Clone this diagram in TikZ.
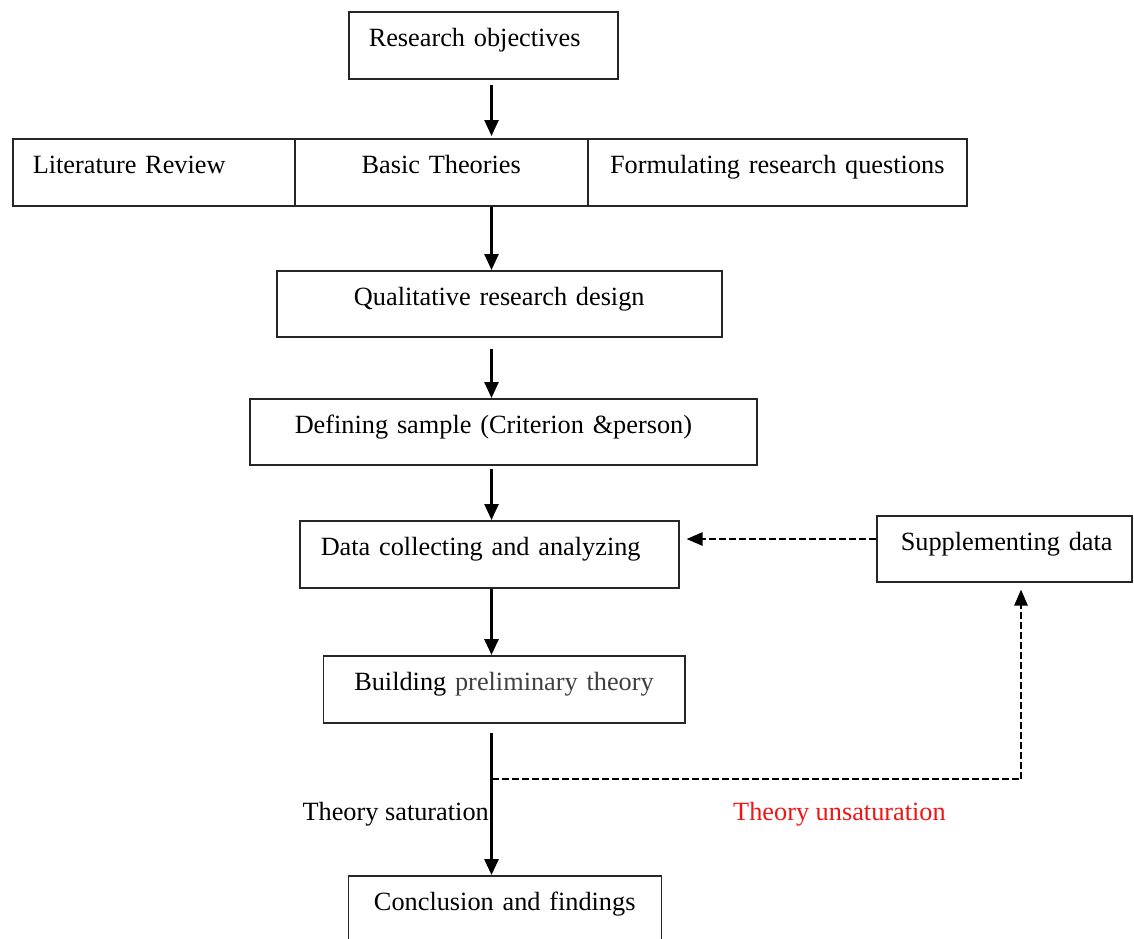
\documentclass[tikz,border=0pt]{standalone}
\usepackage{fontspec}
\setmainfont{Liberation Serif}
\usetikzlibrary{arrows.meta}
\definecolor{unsat}{RGB}{240,20,20}
\begin{document}
\begin{tikzpicture}[x=1pt,y=-1pt,
  font=\fontsize{26.3}{30}\selectfont,
  base/.style={draw=black!85, line width=1.5pt, inner ysep=0pt,
    text height=35pt, text depth=32pt, anchor=north west},
  lbox/.style 2 args={base, inner xsep=#2pt, text width=#1pt-2*#2pt, align=left},
  cbox/.style={base, inner xsep=0pt, text width=#1pt, align=center},
  arr/.style={line width=2.5pt, -{Triangle[width=14pt,length=16pt]}},
  darr/.style={line width=2.5pt, dash pattern=on 7pt off 3pt,
    -{Triangle[width=13pt,length=16pt]}}]
\clip (0,0) rectangle (1134,938);

% boxes of the flow
\node[lbox={269}{20}] (obj) at (348,11) {Research objectives};
\node[lbox={282}{20}] (lit) at (12,138) {Literature Review};
\node[cbox=293] (basic) at (294,138) {Basic Theories};
\node[cbox=379] (form) at (587,138) {Formulating research questions};
\node[cbox=445, text depth=31pt] (qual) at (276,270) {Qualitative research design};
\node[lbox={507}{45}, text depth=31pt] (samp) at (249,398) {Defining sample (Criterion \&person)};
\node[lbox={379}{21}] (data) at (299,520) {Data collecting and analyzing};
\node[lbox={255}{24}, text depth=31pt] (supp) at (876,515) {\mbox{Supplementing data}};
\node[cbox=361.5] (build) at (322.5,655) {Building {\color{black!75}preliminary theory}};
\node[cbox=313, text depth=45pt] (concl) at (347.5,875) {Conclusion and findings};

% main axis of the vertical connectors
\coordinate (axis) at (491.5,0);
\coordinate (split) at (491.5,779);
\coordinate (turn) at (1021,779);

\draw[arr, shorten <=5pt, shorten >=2pt] (obj.south -| axis) -- (basic.north -| axis);
\draw[arr] (basic.south -| axis) -- (qual.north -| axis);
\draw[arr, shorten <=11pt] (qual.south -| axis) -- (samp.north -| axis);
\draw[arr, shorten <=3pt] (samp.south -| axis) -- (data.north -| axis);
\draw[arr, line width=3pt] (data.south -| axis) -- (build.north -| axis);
\draw[arr, line width=3pt, shorten <=9pt] (build.south -| axis) -- (concl.north -| axis);

% feedback loop for unsaturated theory
\draw[darr, -] (split) -- (turn);
\draw[darr, shorten >=7pt] (turn) -- (turn |- supp.south);
\draw[darr, shorten >=7pt] (supp.west |- 0,539) -- (data.east |- 0,539);

% branch labels
\node[anchor=base east, inner sep=0pt] (sat) at (489,820) {Theory saturation};
\node[anchor=base west, inner sep=0pt, text=unsat] (unsat) at (733,820) {Theory unsaturation};
\end{tikzpicture}
\end{document}
